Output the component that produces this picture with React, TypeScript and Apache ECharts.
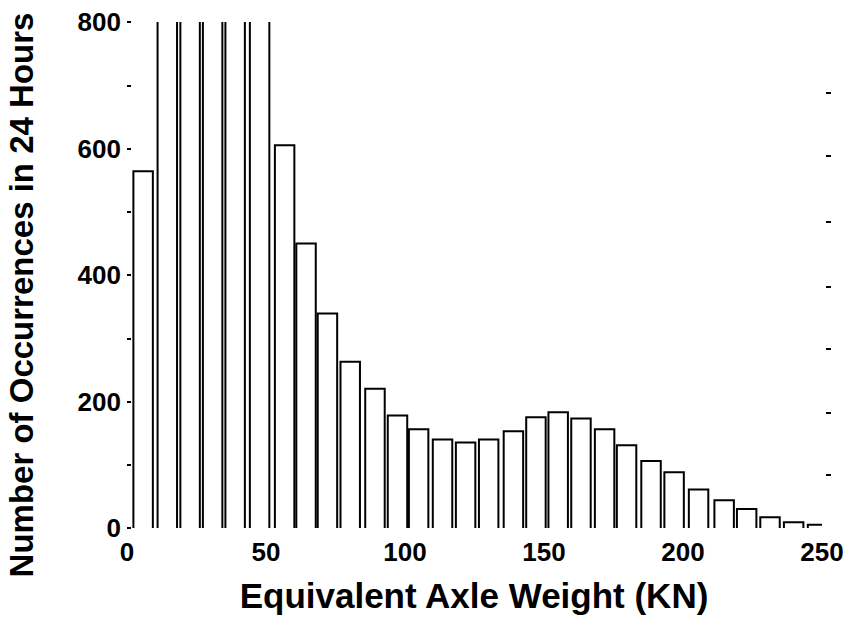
import React, { useEffect, useRef } from "react";
import * as echarts from "echarts";

// Bin centres (kN) and number of occurrences in 24 hours
const axleWeightKN = [5.8, 14.5, 22.7, 30.8, 38.9, 47.7, 56.7, 64.4, 72.1, 80.3, 89.2, 97.3, 104.9, 113.5, 121.8, 130.1, 139.0, 147.1, 155.1, 163.3, 171.8, 179.7, 188.5, 196.8, 205.6, 214.8, 222.9, 231.3, 239.8, 248.4];
const occurrences = [564, 800, 800, 800, 800, 800, 605, 450, 339, 263, 220, 178, 156, 140, 135, 140, 153, 175, 183, 173, 156, 131, 106, 88, 61, 44, 30, 17, 9, 5];

const xTickLabels = [0, 50, 100, 150, 200, 250];
const yTickLabels = [0, 200, 400, 600, 800];
// small marks on the right-hand edge (values on the count scale, as read)
const rightTickValues = [84, 182, 283, 381, 484, 588, 688];

const xTitle = "Equivalent Axle Weight (KN)";
const yTitle = "Number of Occurrences in 24 Hours";

const Y_MAX = 800;
const BAR_HALF_WIDTH_KN = 3.5;

export default function App() {
  const ref = useRef<HTMLDivElement>(null);
  useEffect(() => {
    if (!ref.current) return;
    const chart = echarts.init(ref.current, null, { renderer: "svg" });
    const data = axleWeightKN.map((x, i) => [x, occurrences[i]]);
    const labelFont = "'Liberation Sans', Arial, sans-serif";
    const titleFont = "'Liberation Sans', Arial, sans-serif";
    chart.setOption({
      animation: false,
      backgroundColor: "#ffffff",
      grid: { left: 127, right: 26, top: 22, bottom: 89 },
      xAxis: {
        type: "value",
        min: 0,
        max: 250,
        interval: 50,
        axisLine: { show: false },
        axisTick: { show: false },
        splitLine: { show: false },
        axisLabel: {
          margin: 11,
          color: "#000",
          fontFamily: labelFont,
          fontWeight: "bold",
          fontSize: 26,
          formatter: (v: number) => (xTickLabels.includes(v) ? String(v) : ""),
        },
      },
      yAxis: [
        {
          type: "value",
          min: 0,
          max: Y_MAX,
          interval: 100,
          axisLine: { show: false },
          axisTick: { show: true, inside: true, length: 4, lineStyle: { color: "#000", width: 2 } },
          splitLine: { show: false },
          axisLabel: {
            margin: 6,
            color: "#000",
            fontFamily: labelFont,
            fontWeight: "bold",
            fontSize: 26,
            formatter: (v: number) => (yTickLabels.includes(v) ? String(v) : ""),
          },
        },
        {
          type: "value",
          position: "right",
          min: 0,
          max: Y_MAX,
          offset: 4,
          axisLine: { show: false },
          axisTick: {
            show: true,
            length: 5,
            customValues: rightTickValues,
            lineStyle: { color: "#000", width: 2 },
          },
          axisLabel: { show: false },
          splitLine: { show: false },
        },
      ],
      graphic: [
        {
          type: "text",
          x: 21,
          y: 295,
          rotation: Math.PI / 2,
          style: {
            text: yTitle,
            fill: "#000",
            font: `bold 33px ${titleFont}`,
            align: "center",
            verticalAlign: "middle",
          },
        },
        {
          type: "text",
          x: 474,
          y: 595,
          style: {
            text: xTitle,
            fill: "#000",
            font: `bold 35px ${titleFont}`,
            align: "center",
            verticalAlign: "middle",
          },
        },
      ],
      series: [
        {
          type: "custom",
          clip: true,
          data,
          renderItem: (params: any, api: any) => {
            const x = api.value(0);
            const y = api.value(1);
            const bl = api.coord([x - BAR_HALF_WIDTH_KN, 0]);
            const tr = api.coord([x + BAR_HALF_WIDTH_KN, y]);
            const style = { stroke: "#000", fill: "none", lineWidth: 2 };
            if (y >= Y_MAX) {
              // off-scale bar: only its two sides are visible
              return {
                type: "group",
                children: [
                  { type: "line", shape: { x1: bl[0], y1: bl[1], x2: bl[0], y2: tr[1] }, style },
                  { type: "line", shape: { x1: tr[0], y1: bl[1], x2: tr[0], y2: tr[1] }, style },
                ],
              };
            }
            return {
              type: "polyline",
              shape: {
                points: [
                  [bl[0], bl[1]],
                  [bl[0], tr[1]],
                  [tr[0], tr[1]],
                  [tr[0], bl[1]],
                ],
              },
              style,
            };
          },
        },
      ],
    });
    return () => chart.dispose();
  }, []);
  return (
    <div
      ref={ref}
      style={{ position: "fixed", left: 0, top: 0, width: 848, height: 617, background: "#fff" }}
    />
  );
}
